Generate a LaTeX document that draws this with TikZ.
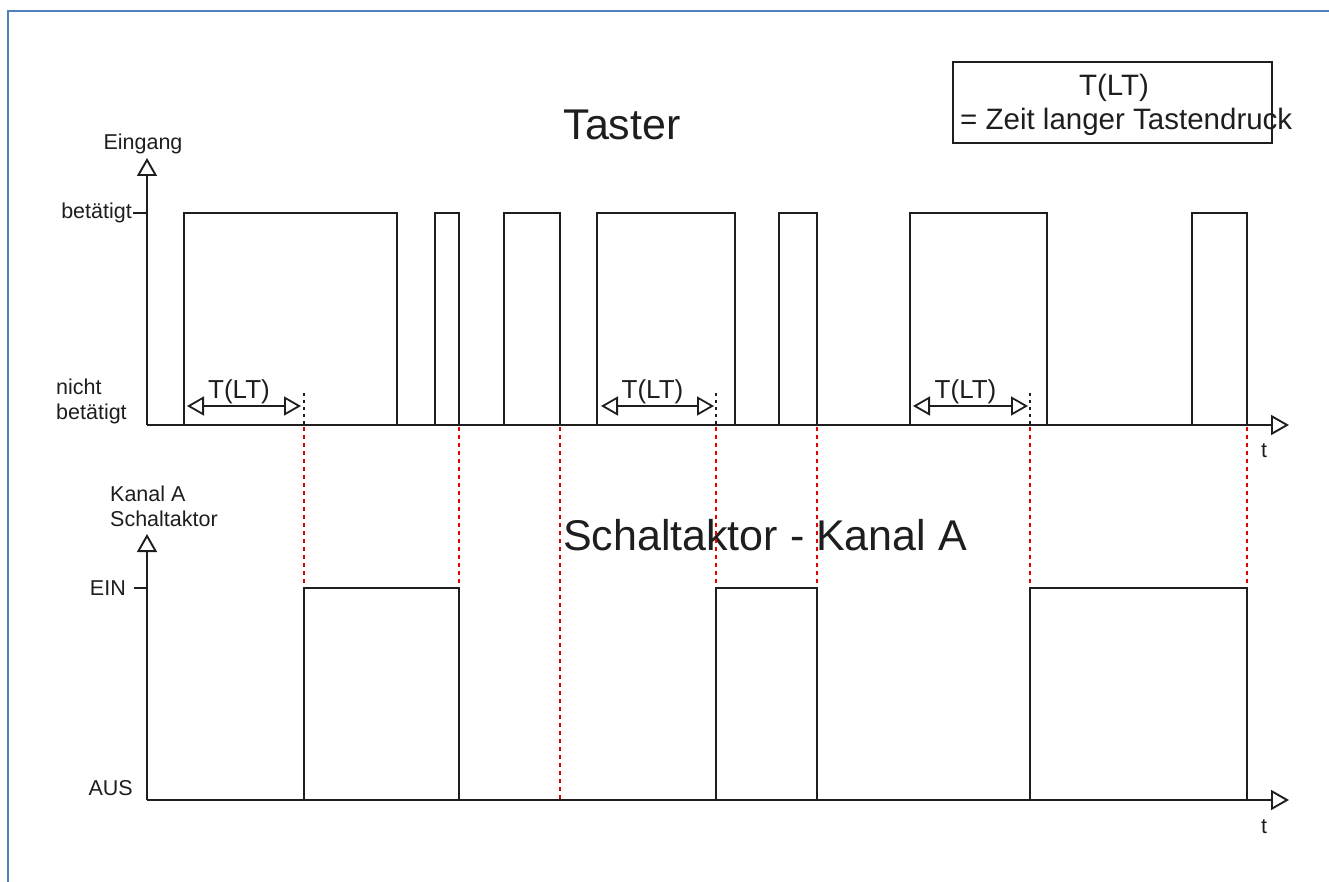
\documentclass[tikz,border=0pt]{standalone}
\usepackage{fontspec}
\setmainfont{Liberation Sans}
\usetikzlibrary{arrows.meta}
\definecolor{framebl}{RGB}{79,129,189}
\definecolor{ink}{RGB}{30,30,30}
\begin{document}
\begin{tikzpicture}[x=1pt,y=-1pt,
  sig/.style={line width=2pt, draw=ink},
  axisline/.style={line width=2pt, draw=ink, -{Triangle[open,length=18pt,width=20pt,line width=1.9pt]}},
  tick/.style={line width=1.8pt, draw=ink},
  redline/.style={line width=1.9pt, draw=red!90!black, dash pattern=on 4pt off 4pt},
  blackdot/.style={line width=1.9pt, draw=ink, dash pattern=on 3pt off 4pt},
  meas/.style={line width=1.6pt, draw=ink, {Triangle[open,length=17pt,width=19pt,line width=1.8pt]}-{Triangle[open,length=17pt,width=19pt,line width=1.8pt]}},
  lbl/.style={font=\fontsize{21.5}{25}\selectfont, text=ink, inner sep=0pt},
  meastxt/.style={font=\fontsize{26}{30}\selectfont, text=ink, inner sep=0pt},
  title/.style={font=\fontsize{43}{50}\selectfont, text=ink, inner sep=0pt},
  legtxt/.style={font=\fontsize{29.5}{34}\selectfont, text=ink, inner sep=0pt}
]
\useasboundingbox (0,0) rectangle (1329,882);
% frame
\draw[framebl, line width=2.2pt] (1329,11) -- (8,11) -- (8,882);

% titles
\node[title] (tTaster) at (622,125) {Taster};
\node[title] (tSchalt) at (765,535) {Schaltaktor - Kanal A};

% legend
\node[draw=ink, line width=1.7pt, minimum width=319pt, minimum height=81pt, inner sep=0pt] (legend) at (1112.5,102.5) {};
\node[legtxt] (legA) at (1114,88) {T(LT)};
\node[legtxt, anchor=west] (legB) at (960,122) {= Zeit langer Tastendruck};

% ---------- top chart ----------
\coordinate (o1) at (147,425);
\coordinate (y1) at (147,158);
\coordinate (x1) at (1289,425);
\draw[axisline] (o1) -- (y1);
\draw[axisline] (o1) -- (x1);
\coordinate (tk1) at (133,213);
\coordinate (tk1e) at (147,213);
\draw[tick] (tk1) -- (tk1e);
\node[lbl] (eing) at (143,144) {Eingang};
\node[lbl, anchor=east] (bet) at (132,213) {betätigt};
\node[lbl, align=left, anchor=west] (nb) at (56,401) {nicht\\betätigt};
\node[lbl] (t1) at (1264,451) {t};

\foreach \a/\b in {184/397, 435/459, 504/560, 597/735, 779/817, 910/1047, 1192/1247}
  \draw[sig] (\a,425) -- (\a,213) -- (\b,213) -- (\b,425);

% T(LT) measures
\foreach \l/\r/\d/\n in {187/301/304/1, 601/714/716/2, 913/1028/1030/3}{
  \coordinate (mL\n) at (\l,406);
  \coordinate (mR\n) at (\r,406);
  \draw[meas] (mL\n) -- (mR\n);
  \node[meastxt] (mt\n) at ({(\l+\r)/2-5},392) {T(LT)};
  \draw[blackdot] (\d,393) -- (\d,424);
}

% ---------- bottom chart ----------
\coordinate (o2) at (147,800);
\coordinate (y2) at (147,534);
\coordinate (x2) at (1289,800);
\draw[axisline] (o2) -- (y2);
\draw[axisline] (o2) -- (x2);
\coordinate (tk2) at (134,588);
\coordinate (tk2e) at (147,588);
\draw[tick] (tk2) -- (tk2e);
\node[lbl, align=left, anchor=west] (kan) at (110,506) {Kanal A\\Schaltaktor};
\node[lbl, anchor=east] (ein) at (126,588) {EIN};
\node[lbl, anchor=east] (aus) at (133,788) {AUS};
\node[lbl] (t2) at (1264,827) {t};

\foreach \a/\b in {304/459, 716/817, 1030/1247}
  \draw[sig] (\a,800) -- (\a,588) -- (\b,588) -- (\b,800);

% red guide lines
\foreach \x in {304, 459, 716, 817, 1030, 1247}
  \draw[redline] (\x,427) -- (\x,587);
\draw[redline] (560,427) -- (560,799);
\end{tikzpicture}
\end{document}
